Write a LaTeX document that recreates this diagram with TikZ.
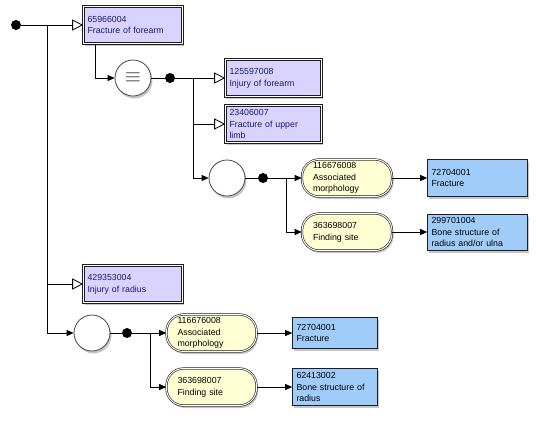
\documentclass[tikz,border=0pt]{standalone}
\usepackage{fontspec}
\setmainfont{Liberation Sans}
\usepackage{tikz}
\usetikzlibrary{arrows.meta,positioning,shadows}
\definecolor{ink}{RGB}{30,30,30}
\definecolor{lav}{RGB}{216,212,255}
\definecolor{navy}{RGB}{25,25,110}
\definecolor{pale}{RGB}{255,255,212}
\definecolor{sky}{RGB}{160,204,250}
\definecolor{rim}{RGB}{70,70,70}
\tikzset{
  lift/.style={drop shadow={opacity=0.45,shadow xshift=1.5pt,shadow yshift=-2.5pt}},
  txt/.style={font=\fontsize{8.8}{11.8}\selectfont,align=left},
  concept/.style={txt,lift,draw=ink,double=white,double distance=1pt,
    line width=0.6pt,fill=lav,text=navy,inner xsep=4pt,inner ysep=2pt,
    minimum height=37pt},
  attr/.style={txt,lift,draw=ink,double=white,double distance=1pt,
    line width=0.6pt,fill=pale,rounded corners=17pt,inner xsep=11pt,
    inner ysep=1pt,minimum height=37pt,text width=68pt},
  val/.style={txt,lift,draw=ink,line width=0.6pt,fill=sky,inner xsep=4pt,
    inner ysep=2pt},
  grp/.style={circle,lift,draw=rim,line width=0.8pt,fill=white,
    minimum size=36pt,inner sep=0pt},
  joint/.style={circle,fill=black,minimum size=10pt,inner sep=0pt},
  isa/.style={-{Triangle[open,length=11pt,width=11pt]},line width=0.8pt},
  rel/.style={-{Triangle[length=7pt,width=6pt]},line width=0.8pt},
  wire/.style={line width=0.8pt},
}
\begin{document}
\begin{tikzpicture}[x=1pt,y=-1pt]
  \useasboundingbox (0,0) rectangle (536,421);
  \node[joint] (root) at (16,25) {};
  \node[concept,text width=91pt] (fore) at (133,25) {65966004\\Fracture of forearm};
  \node[concept,text width=91pt] (radius) at (133,284) {429353004\\Injury of radius};
  \node[grp,text=black!80,font=\huge] (eq) at (133,78) {$\equiv$};
  \node[joint] (d2) at (170,78) {};
  \node[concept,text width=88pt] (injf) at (273.5,78) {125597008\\Injury of forearm};
  \node[concept,text width=88pt] (upper) at (273.5,124) {23406007\\Fracture of upper\\limb};
  \node[grp] (g2) at (227,178) {};
  \node[joint] (d3) at (263,178) {};
  \node[attr] (am1) at (347,178) {116676008\\Associated\\morphology};
  \node[attr] (fs1) at (347,232) {363698007\\Finding site};
  \node[val,text width=92pt,minimum height=37pt] (fx1) at (477.5,178) {72704001\\Fracture};
  \node[val,text width=92pt,minimum height=36pt] (bs1) at (477.5,232) {299701004\\Bone structure of\\radius and/or ulna};
  \node[grp] (g3) at (92,333) {};
  \node[joint] (d4) at (127,333) {};
  \node[attr] (am2) at (211.5,333) {116676008\\Associated\\morphology};
  \node[attr] (fs2) at (211.5,387) {363698007\\Finding site};
  \node[val,text width=77pt,minimum height=31pt] (fx2) at (335,333) {72704001\\Fracture};
  \node[val,text width=77pt,minimum height=37pt] (bs2) at (335,387) {62413002\\Bone structure of\\radius};
  \coordinate (j1) at (47,25);
  \coordinate (j2) at (193,78);
  \coordinate (j3) at (286,178);
  \coordinate (j4) at (150,333);
  \draw[wire] (root) -- (j1);
  \draw[isa] (j1) -- (fore);
  \draw[isa] (j1) |- (radius);
  \draw[rel] (j1) |- (g3);
  \draw[rel] ([xshift=-38pt]fore.south) |- (eq);
  \draw[wire] (eq) -- (d2) -- (j2);
  \draw[isa] (j2) -- (injf);
  \draw[isa] (j2) |- (upper);
  \draw[rel] (j2) |- (g2);
  \draw[wire] (g2) -- (d3) -- (j3);
  \draw[rel] (j3) -- (am1);
  \draw[rel] (j3) |- (fs1);
  \draw[rel] (am1) -- (fx1);
  \draw[rel] (fs1) -- (bs1);
  \draw[wire] (g3) -- (d4) -- (j4);
  \draw[rel] (j4) -- (am2);
  \draw[rel] (j4) |- (fs2);
  \draw[rel] (am2) -- (fx2);
  \draw[rel] (fs2) -- (bs2);
\end{tikzpicture}
\end{document}
